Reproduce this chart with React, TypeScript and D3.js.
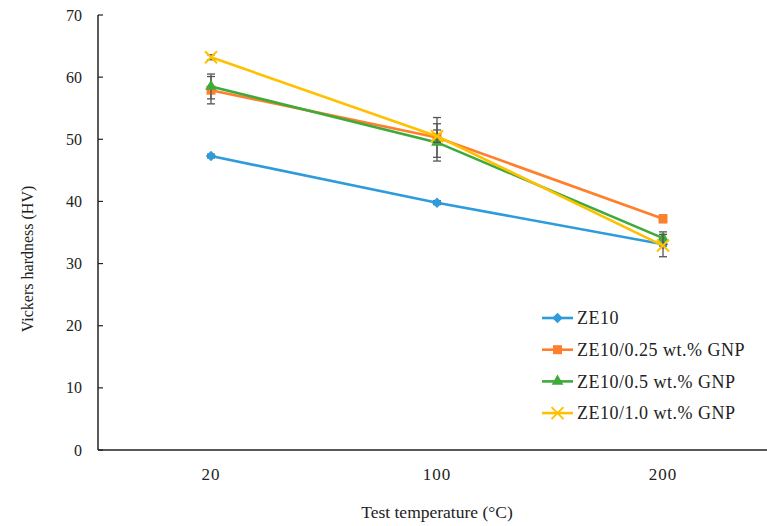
import React, { useEffect, useRef } from "react";
import * as d3 from "d3";

const categories = ["20", "100", "200"];
const seriesNames = ["ZE10", "ZE10/0.25 wt.% GNP", "ZE10/0.5 wt.% GNP", "ZE10/1.0 wt.% GNP"];
const ze10 = [47.3, 39.8, 33.1];
const gnp025 = [57.9, 50.3, 37.2];
const gnp05 = [58.5, 49.5, 34.1];
const gnp10 = [63.2, 50.5, 32.9];
const err025 = [2.2, 3.2, 0.6];
const err05 = [2.0, 3.0, 1.0];
const err10 = [0.4, 1.0, 1.8];
const ze10Err = [0.3, 0.3, 0.3];
const yTicks = [0, 10, 20, 30, 40, 50, 60, 70];
const xTitle = "Test temperature (°C)";
const yTitle = "Vickers hardness (HV)";

const colors = ["#2E9BDC", "#FF7F2A", "#3EAA3A", "#FFC000"];
const markers = ["diamond", "square", "triangle", "x"];

export default function App() {
  const ref = useRef<SVGSVGElement>(null);
  useEffect(() => {
    const svg = d3.select(ref.current);
    svg.selectAll("*").remove();
    const left = 98, right = 776, top = 15, bottom = 450;
    const font = "'Liberation Serif', 'Times New Roman', serif";
    const x = d3.scaleBand<string>().domain(categories).range([left, right]);
    const y = d3.scaleLinear().domain([0, 70]).range([bottom, top]);
    const cx = (c: string) => (x(c) as number) + x.bandwidth() / 2;

    const g = svg.append("g");
    g.append("line").attr("x1", left).attr("x2", left).attr("y1", top).attr("y2", bottom)
      .attr("stroke", "#222").attr("stroke-width", 1.5);
    g.append("line").attr("x1", left).attr("x2", right).attr("y1", bottom).attr("y2", bottom)
      .attr("stroke", "#222").attr("stroke-width", 1.5);
    yTicks.forEach((t) => {
      g.append("line").attr("x1", left).attr("x2", left + 5).attr("y1", y(t)).attr("y2", y(t))
        .attr("stroke", "#222").attr("stroke-width", 1.2);
      g.append("text").attr("x", left - 16).attr("y", y(t)).attr("dy", "0.35em")
        .attr("text-anchor", "end").attr("font-family", font).attr("font-size", 16)
        .attr("fill", "#222").text(String(t));
    });
    categories.forEach((c) => {
      g.append("text").attr("x", cx(c)).attr("y", 480).attr("text-anchor", "middle")
        .attr("font-family", font).attr("font-size", 17).attr("letter-spacing", 1)
        .attr("fill", "#222").text(c);
    });
    g.append("text").attr("x", (left + right) / 2).attr("y", 518).attr("text-anchor", "middle")
      .attr("font-family", font).attr("font-size", 17.5).attr("fill", "#222").text(xTitle);
    g.append("text").attr("transform", `translate(33,259) rotate(-90)`).attr("text-anchor", "middle")
      .attr("font-family", font).attr("font-size", 16).attr("fill", "#222").text(yTitle);

    const data = [ze10, gnp025, gnp05, gnp10];
    const errs = [ze10Err, err025, err05, err10];

    const drawMarker = (sel: any, type: string, color: string, px: number, py: number) => {
      if (type === "diamond") {
        sel.append("path").attr("d", d3.symbol().type(d3.symbolDiamond2).size(70)())
          .attr("transform", `translate(${px},${py}) `).attr("fill", color);
      } else if (type === "square") {
        sel.append("rect").attr("x", px - 4.5).attr("y", py - 4.5).attr("width", 9).attr("height", 9).attr("fill", color);
      } else if (type === "triangle") {
        sel.append("path").attr("d", d3.symbol().type(d3.symbolTriangle).size(60)())
          .attr("transform", `translate(${px},${py})`).attr("fill", color);
      } else {
        sel.append("path").attr("d", `M${px - 6},${py - 6}L${px + 6},${py + 6}M${px - 6},${py + 6}L${px + 6},${py - 6}`)
          .attr("stroke", color).attr("stroke-width", 2);
      }
    };

    const line = d3.line<number>().x((_, i) => cx(categories[i])).y((v) => y(v));
    data.forEach((vals, si) => {
      const sg = g.append("g");
      sg.append("path").attr("d", line(vals) as string).attr("fill", "none")
        .attr("stroke", colors[si]).attr("stroke-width", 2.6);
      vals.forEach((v, i) => {
        const px = cx(categories[i]);
        const e = errs[si][i];
        const eg = sg.append("g").attr("stroke", "#555").attr("stroke-width", 1.3);
        eg.append("line").attr("x1", px).attr("x2", px).attr("y1", y(v + e)).attr("y2", y(v - e));
        eg.append("line").attr("x1", px - 4).attr("x2", px + 4).attr("y1", y(v + e)).attr("y2", y(v + e));
        eg.append("line").attr("x1", px - 4).attr("x2", px + 4).attr("y1", y(v - e)).attr("y2", y(v - e));
        drawMarker(sg, markers[si], colors[si], px, y(v));
      });
    });

    const lx1 = 542, lx2 = 573, ly0 = 318, lstep = 31.7;
    seriesNames.forEach((name, i) => {
      const ly = ly0 + i * lstep;
      g.append("line").attr("x1", lx1).attr("x2", lx2).attr("y1", ly).attr("y2", ly)
        .attr("stroke", colors[i]).attr("stroke-width", 2.6);
      drawMarker(g, markers[i], colors[i], (lx1 + lx2) / 2, ly);
      g.append("text").attr("x", lx2 + 4).attr("y", ly).attr("dy", "0.35em")
        .attr("font-family", font).attr("font-size", 18).attr("letter-spacing", 0.5)
        .attr("fill", "#222").text(name);
    });
  }, []);
  return (
    <svg ref={ref} width={767} height={526}
      style={{ position: "absolute", left: 0, top: 0, background: "#fff" }} />
  );
}
